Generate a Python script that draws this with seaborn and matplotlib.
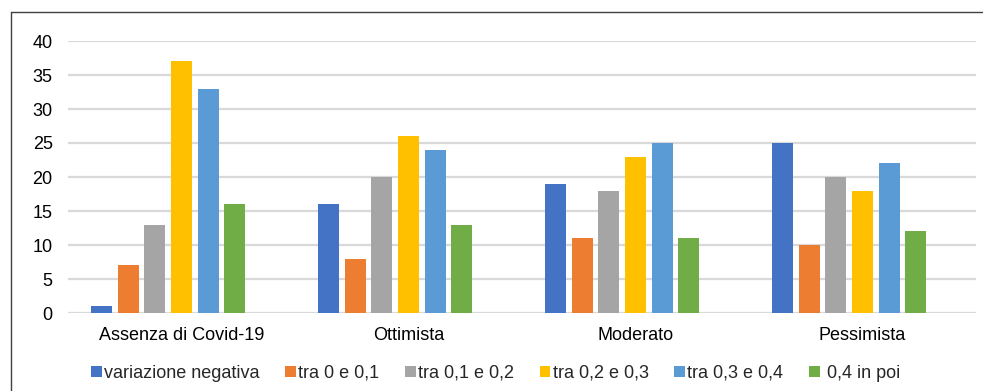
import matplotlib
matplotlib.use("Agg")
import matplotlib.pyplot as plt
from matplotlib.lines import Line2D
import seaborn as sns
import pandas as pd

# Scenarios on the x axis
scenarios = ["Assenza di Covid-19", "Ottimista", "Moderato", "Pessimista"]

# Classes of variation (one bar per class in each scenario)
classes = ["variazione negativa", "tra 0 e 0,1", "tra 0,1 e 0,2",
           "tra 0,2 e 0,3", "tra 0,3 e 0,4", " 0,4 in poi"]

# Values per class, in the order of the scenarios
variazione_negativa = [1, 16, 19, 25]
tra_0_e_01 = [7, 8, 11, 10]
tra_01_e_02 = [13, 20, 18, 20]
tra_02_e_03 = [37, 26, 23, 18]
tra_03_e_04 = [33, 24, 25, 22]
da_04_in_poi = [16, 13, 11, 12]

colors = ["#4472C4", "#ED7D31", "#A5A5A5", "#FFC000", "#5B9BD5", "#70AD47"]
y_ticks = [0, 5, 10, 15, 20, 25, 30, 35, 40]

series = [variazione_negativa, tra_0_e_01, tra_01_e_02,
          tra_02_e_03, tra_03_e_04, da_04_in_poi]
rows = []
for name, values in zip(classes, series):
    for scen, v in zip(scenarios, values):
        rows.append({"Scenario": scen, "Classe": name, "Valore": v})
df = pd.DataFrame(rows)

# an extra, empty slot keeps the clusters laid out as in the workbook chart
spare = "  "
hue_order = classes + [spare]
palette = dict(zip(classes, colors))
palette[spare] = "#FFFFFF"

sns.set_theme(style="white")
plt.rcParams["font.family"] = ["Liberation Sans", "DejaVu Sans"]

W, H = 983, 391
fig = plt.figure(figsize=(W / 100, H / 100), dpi=100)
ax = fig.add_axes([68 / W, 1 - 313 / H, (976 - 68) / W, (313 - 41) / H])

sns.barplot(data=df, x="Scenario", y="Valore", hue="Classe",
            order=scenarios, hue_order=hue_order, palette=palette,
            width=0.823, gap=0.21, linewidth=0, saturation=1,
            errorbar=None, legend=False, ax=ax)

ax.set_ylim(0, 40)
ax.set_xlim(-0.5, len(scenarios) - 0.5)
ax.set_yticks(y_ticks)
ax.set_yticklabels([str(t) for t in y_ticks])
ax.set_xlabel("")
ax.set_ylabel("")
ax.yaxis.grid(True, color="#D9D9D9", linewidth=1.6)
ax.set_axisbelow(True)
for side in ["top", "right", "left", "bottom"]:
    ax.spines[side].set_visible(False)
ax.tick_params(axis="both", length=0, labelsize=13, colors="#000000")
ax.tick_params(axis="y", pad=11)
ax.tick_params(axis="x", pad=10)

handles = [plt.Rectangle((0, 0), 1, 1, facecolor=c, linewidth=0) for c in colors]
fig.legend(handles, classes, loc="center", bbox_to_anchor=(495.5 / W, 1 - 373 / H),
           ncol=6, frameon=False, fontsize=13, handlelength=0.6,
           handleheight=0.55, handletextpad=0.12, columnspacing=1.42,
           borderaxespad=0, borderpad=0)

# outer frame of the chart area
fig.add_artist(Line2D([11 / W, 1.01], [1 - 12 / H, 1 - 12 / H],
                      transform=fig.transFigure, color="#404040", linewidth=1))
fig.add_artist(Line2D([11 / W, 11 / W], [1 - 12 / H, -0.01],
                      transform=fig.transFigure, color="#404040", linewidth=1))

fig.savefig("out.png", dpi=100, facecolor="white")
